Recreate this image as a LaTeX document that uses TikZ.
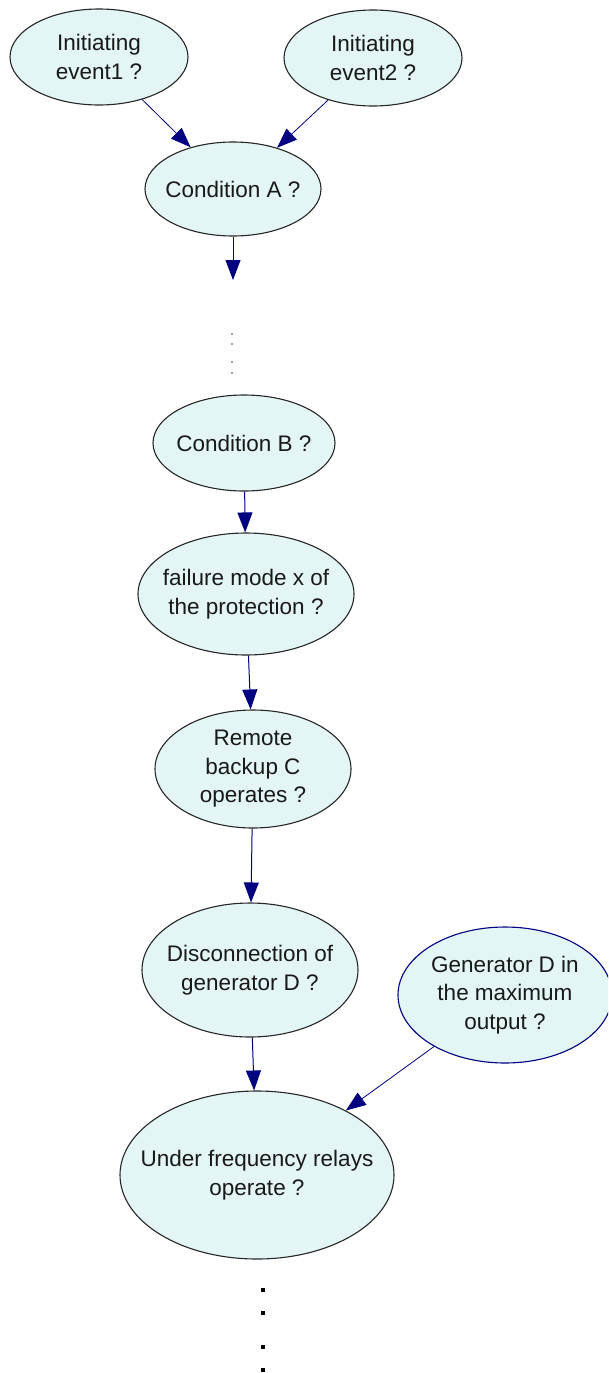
\documentclass[tikz,border=0pt]{standalone}
\usepackage{fontspec}
\setmainfont{Liberation Sans}
\usetikzlibrary{shapes.geometric,arrows.meta}
\definecolor{bubble}{RGB}{228,245,245}
\definecolor{edgeblue}{RGB}{0,0,128}
\tikzset{
  evt/.style={ellipse, draw=black!85, line width=1.1pt, fill=bubble, inner sep=0pt},
  lbl/.style={align=center, inner sep=0pt, font=\fontsize{22.5}{28.5}\selectfont, text=black!90},
  link/.style={draw=edgeblue, line width=1pt, -{Triangle[length=20pt,width=15pt]}},
  thinlink/.style={draw=edgeblue, line width=0.8pt, -{Triangle[length=20pt,width=15pt]}},
}
\begin{document}
\begin{tikzpicture}[x=1pt,y=-1pt]
\useasboundingbox (0,0) rectangle (608,1373);
\clip (0,0) rectangle (608,1373);

% event nodes
\node[evt, minimum width=178pt, minimum height=96pt,
  label={[lbl]center:Initiating\\event1 ?}] (e1) at (99,57) {};
\node[evt, minimum width=178pt, minimum height=96pt,
  label={[lbl]center:Initiating\\event2 ?}] (e2) at (373,58) {};
\node[evt, minimum width=176pt, minimum height=94pt,
  label={[lbl]center:Condition A ?}] (ca) at (233,189) {};
\coordinate (caend) at (233,280);

% elided middle part
\foreach \y in {334,344,362,373}
  \fill[gray!75] (231,\y-0.8) rectangle (233,\y+0.8);

\node[evt, minimum width=182pt, minimum height=96pt,
  label={[lbl]center:Condition B ?}] (cb) at (244,443) {};
\node[evt, minimum width=216pt, minimum height=122pt,
  label={[lbl]center:failure mode x of\\the protection ?}] (fm) at (246,594) {};
\node[evt, minimum width=196pt, minimum height=118pt,
  label={[lbl]center:Remote\\backup C\\operates ?}] (rb) at (253,769) {};
\node[evt, minimum width=216pt, minimum height=134pt,
  label={[lbl]center:Disconnection of\\generator D ?}] (dg) at (250,970) {};
\node[evt, draw=edgeblue, minimum width=214pt, minimum height=136pt,
  label={[lbl]center:Generator D in\\the maximum\\output ?}] (gm) at (505,995) {};
\node[evt, minimum width=274pt, minimum height=168pt,
  label={[lbl]center:Under frequency relays\\operate ?}] (uf) at (257,1175) {};

% trailing dots
\foreach \y in {1290,1313,1347,1370}
  \fill[black] (261,\y-2) rectangle (265,\y+2);

% connectors
\draw[thinlink] (e1) -- (ca);
\draw[thinlink] (e2) -- (ca);
\draw[link] (ca) -- (caend);
\draw[link] (cb) -- (fm);
\draw[link] (fm) -- (rb);
\draw[link] (rb) -- (dg);
\draw[link] (dg) -- (uf);
\draw[thinlink] (gm) -- (uf);
\end{tikzpicture}
\end{document}
